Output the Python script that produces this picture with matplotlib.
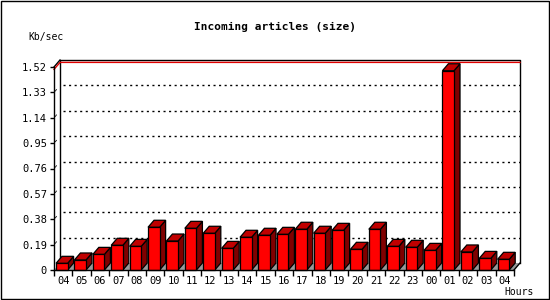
import matplotlib

matplotlib.use("Agg")

import matplotlib.pyplot as plt
from matplotlib.patches import Polygon, Rectangle

hours = ["04", "05", "06", "07", "08", "09", "10", "11", "12", "13", "14", "15", "16",
         "17", "18", "19", "20", "21", "22", "23", "00", "01", "02", "03", "04"]
kb_sec = [0.050, 0.075, 0.117, 0.185, 0.177, 0.320, 0.217, 0.312, 0.275, 0.162, 0.245, 0.260, 0.267,
          0.305, 0.275, 0.297, 0.155, 0.305, 0.177, 0.170, 0.147, 1.492, 0.135, 0.087, 0.080]
y_ticks = [0, 0.19, 0.38, 0.57, 0.76, 0.95, 1.14, 1.33, 1.52]
y_labels = ["0", "0.19", "0.38", "0.57", "0.76", "0.95", "1.14", "1.33", "1.52"]

W, H = 550, 300
X0, X1, Y0, Y1 = 54, 514, 270, 67  # front plot area in pixels
n = len(hours)
ymax = y_ticks[-1]
DX = 6 / ((X1 - X0) / n)
DY = 7 * ymax / (Y0 - Y1)
FONT = "DejaVu Sans Mono"

fig = plt.figure(figsize=(W / 100, H / 100), dpi=100)
fig.patches.append(Rectangle((0.001, 0.002), 0.997, 0.995, transform=fig.transFigure,
                             fill=False, edgecolor="black", linewidth=1.0))
ax = fig.add_axes([X0 / W, (H - Y0) / H, (X1 - X0) / W, (Y0 - Y1) / H])
ax.set_xlim(0, n)
ax.set_ylim(0, ymax)
for s in ax.spines.values():
    s.set_visible(False)
ax.patch.set_visible(False)

kw = dict(clip_on=False)
# floor
ax.add_patch(Polygon([(0, 0), (n, 0), (n + DX, DY), (DX, DY)], closed=True,
                     facecolor="#999999", edgecolor="none", zorder=1, **kw))
# back wall frame
ax.plot([DX, DX, n + DX, n + DX], [DY, ymax + DY, ymax + DY, DY], color="black", lw=1, zorder=2, **kw)
ax.plot([0, DX], [ymax, ymax + DY], color="black", lw=1, zorder=2, **kw)
# dotted grid on back wall
for t in y_ticks[1:-1]:
    ax.plot([DX + 0.15, n + DX], [t + DY, t + DY], color="black", lw=1,
            linestyle=(0, (1.5, 2.5)), zorder=2, **kw)
    ax.plot([0.08, DX * 0.4], [t + DY * 0.2, t + DY * 0.4], color="black", lw=0.6, zorder=2, **kw)
# max line
peak = max(kb_sec)
ax.plot([0, DX, n + DX], [peak + 0.01, peak + DY + 0.01, peak + DY + 0.01], color="#e00000", lw=1, zorder=2, **kw)

# bars
off, bw = 0.11, 0.63
for i, v in enumerate(kb_sec):
    x0 = i + off
    x1 = x0 + bw
    top = Polygon([(x0, v), (x1, v), (x1 + DX, v + DY), (x0 + DX, v + DY)], closed=True,
                  facecolor="#c00000", edgecolor="black", lw=0.9, zorder=3, **kw)
    side = Polygon([(x1, 0), (x1 + DX, DY), (x1 + DX, v + DY), (x1, v)], closed=True,
                   facecolor="#800000", edgecolor="black", lw=0.9, zorder=3, **kw)
    front = Rectangle((x0, 0), bw, v, facecolor="#ff0000", edgecolor="black", lw=0.9, zorder=4, **kw)
    ax.add_patch(side)
    ax.add_patch(top)
    ax.add_patch(front)

# front axes
ax.plot([0, 0], [0, ymax], color="black", lw=1, zorder=5, **kw)
ax.plot([0, n], [0, 0], color="black", lw=1, zorder=5, **kw)
ax.plot([n, n + DX], [0, DY], color="black", lw=1, zorder=5, **kw)

ax.set_yticks(y_ticks)
ax.set_yticklabels(y_labels, fontfamily=FONT, fontsize=7.5)
ax.set_xticks(range(n + 1))
ax.set_xticklabels([])
ax.set_xticks([i + 0.5 for i in range(n)], minor=True)
ax.set_xticklabels(hours, minor=True, fontfamily=FONT, fontsize=7.5)
ax.tick_params(axis="y", length=3, width=1, pad=2)
ax.tick_params(axis="x", which="major", length=4, width=1)
ax.tick_params(axis="x", which="minor", length=0, pad=4)

fig.text(275 / W, 1 - 27 / H, "Incoming articles (size)", ha="center", va="center",
         fontfamily=FONT, fontsize=8, fontweight="bold")
fig.text(28 / W, 1 - 37 / H, "Kb/sec", ha="left", va="center", fontfamily=FONT, fontsize=7)
fig.text(534 / W, 1 - 292 / H, "Hours", ha="right", va="center", fontfamily=FONT, fontsize=7)

fig.savefig("out.png", dpi=100, facecolor="white")
